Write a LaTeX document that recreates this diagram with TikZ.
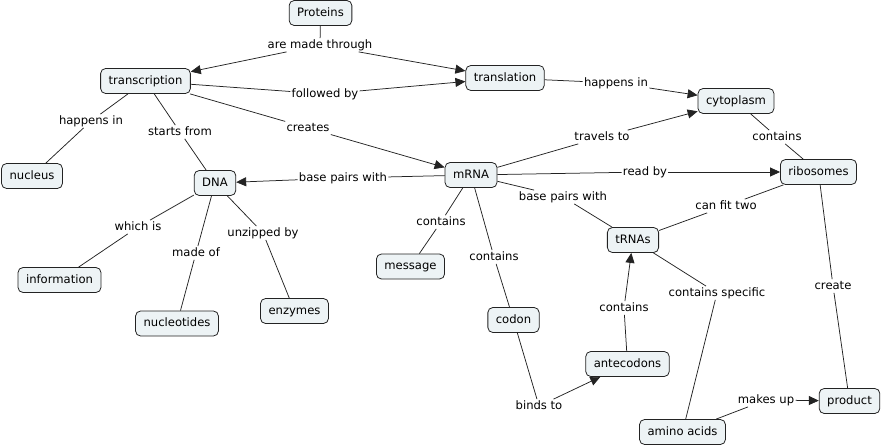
\documentclass[tikz,border=0pt]{standalone}
\usepackage{fontspec}
\setmainfont{DejaVu Sans}
\usepackage{xcolor}
\usetikzlibrary{arrows.meta}

\definecolor{conceptfill}{RGB}{237,243,245}
\definecolor{conceptline}{RGB}{35,35,35}

\begin{document}
\begin{tikzpicture}[x=1pt, y=-1pt,
    font=\fontsize{11.6}{13}\selectfont,
    concept/.style={draw=conceptline, fill=conceptfill, rounded corners=5pt,
      line width=0.8pt, inner xsep=8pt, minimum height=25pt,
      text height=8.6pt, text depth=2.4pt},
    linkword/.style={fill=white, inner sep=1.2pt, text height=8.6pt, text depth=2.4pt},
    link/.style={draw=conceptline, line width=0.75pt},
    tolink/.style={link, arrows={-{Triangle[length=10pt, width=9pt]}}}]
  \useasboundingbox (0,0) rectangle (883,447);

  % Draw concepts.
  \node[concept] (proteins) at (320.5, 13) {Proteins};
  \node[concept] (transcription) at (145.5, 81) {transcription};
  \node[concept] (translation) at (505, 78) {translation};
  \node[concept] (cytoplasm) at (736, 101) {cytoplasm};
  \node[concept] (nucleus) at (32, 176) {nucleus};
  \node[concept] (dna) at (215, 183) {DNA};
  \node[concept] (mrna) at (471, 175) {mRNA};
  \node[concept] (ribosomes) at (818.5, 172) {ribosomes};
  \node[concept] (trnas) at (633, 240) {tRNAs};
  \node[concept] (message) at (410.5, 266.5) {message};
  \node[concept] (information) at (59.5, 280) {information};
  \node[concept] (enzymes) at (294.5, 311) {enzymes};
  \node[concept] (nucleotides) at (177, 323.5) {nucleotides};
  \node[concept] (codon) at (513.5, 320) {codon};
  \node[concept] (antecodons) at (627.5, 364) {antecodons};
  \node[concept] (product) at (849.5, 401) {product};
  \node[concept] (aminoacids) at (682.5, 432) {amino acids};

  % Draw linking words.
  \node[linkword] (madethrough) at (320, 45) {are made through};
  \node[linkword] (followedby) at (325, 94) {followed by};
  \node[linkword] (happensinA) at (91, 121) {happens in};
  \node[linkword] (startsfrom) at (180, 132) {starts from};
  \node[linkword] (creates) at (308, 128) {creates};
  \node[linkword] (happensinB) at (616, 83) {happens in};
  \node[linkword] (travelsto) at (602, 137) {travels to};
  \node[linkword] (containsA) at (777, 137) {contains};
  \node[linkword] (readby) at (645, 172) {read by};
  \node[linkword] (basepairsA) at (343, 178) {base pairs with};
  \node[linkword] (basepairsB) at (563, 197) {base pairs with};
  \node[linkword] (canfittwo) at (726, 206) {can fit two};
  \node[linkword] (containsB) at (441, 222) {contains};
  \node[linkword] (whichis) at (138, 227) {which is};
  \node[linkword] (unzippedby) at (263, 233) {unzipped by};
  \node[linkword] (madeof) at (196, 253) {made of};
  \node[linkword] (containsC) at (494, 257) {contains};
  \node[linkword] (create) at (833, 286) {create};
  \node[linkword] (specific) at (717, 293) {contains specific};
  \node[linkword] (containsD) at (624, 308) {contains};
  \node[linkword] (makesup) at (766, 400) {makes up};
  \node[linkword] (bindsto) at (539, 406) {binds to};

  % Draw connections.
  \draw[link] (proteins) -- (madethrough);
  \draw[tolink] (madethrough) -- (transcription);
  \draw[tolink] (madethrough) -- (translation);
  \draw[link] (transcription) -- (followedby);
  \draw[tolink] (followedby) -- (translation);
  \draw[link] (transcription) -- (happensinA) -- (nucleus);
  \draw[link] (transcription) -- (startsfrom) -- (dna);
  \draw[link] (transcription) -- (creates);
  \draw[tolink] (creates) -- (mrna);
  \draw[link] (translation) -- (happensinB);
  \draw[tolink] (happensinB) -- (cytoplasm);
  \draw[link] (mrna) -- (travelsto);
  \draw[tolink] (travelsto) -- (cytoplasm);
  \draw[link] (cytoplasm) -- (containsA) -- (ribosomes);
  \draw[link] (mrna) -- (readby);
  \draw[tolink] (readby) -- (ribosomes);
  \draw[link] (mrna) -- (basepairsA);
  \draw[tolink] (basepairsA) -- (dna);
  \draw[link] (mrna) -- (basepairsB) -- (trnas);
  \draw[link] (ribosomes) -- (canfittwo) -- (trnas);
  \draw[link] (mrna) -- (containsB) -- (message);
  \draw[link] (mrna) -- (containsC) -- (codon);
  \draw[link] (dna) -- (whichis) -- (information);
  \draw[link] (dna) -- (madeof) -- (nucleotides);
  \draw[link] (dna) -- (unzippedby) -- (enzymes);
  \draw[link] (codon) -- (bindsto);
  \draw[tolink] (bindsto) -- (antecodons);
  \draw[link] (antecodons) -- (containsD);
  \draw[tolink] (containsD) -- (trnas);
  \draw[link] (trnas) -- (specific) -- (aminoacids);
  \draw[link] (aminoacids) -- (makesup);
  \draw[tolink] (makesup) -- (product);
  \draw[link] (ribosomes) -- (create) -- (product);
\end{tikzpicture}
\end{document}
